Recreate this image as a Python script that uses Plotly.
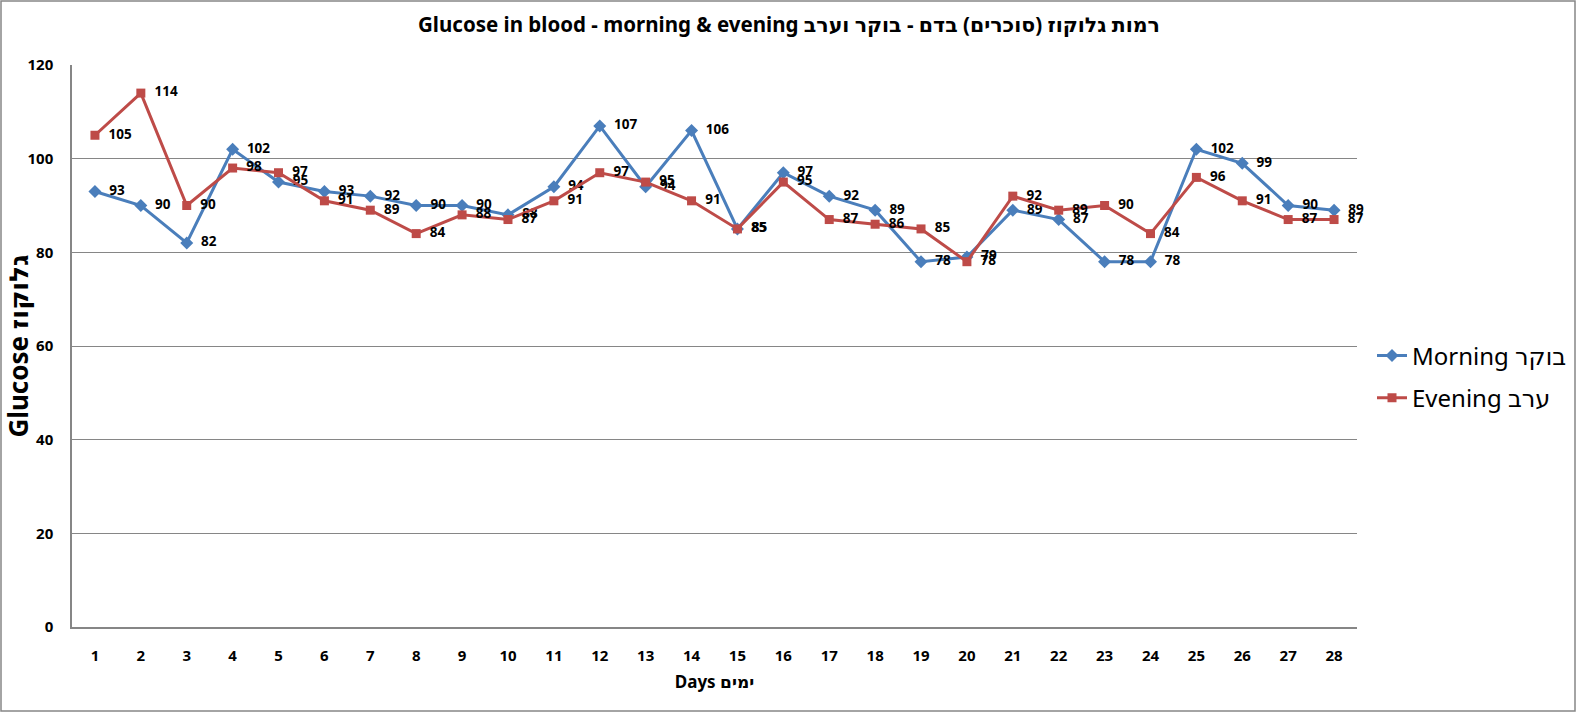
import plotly.graph_objects as go

days = list(range(1, 29))
morning = [93, 90, 82, 102, 95, 93, 92, 90, 90, 88, 94, 107, 94, 106, 85, 97, 92, 89, 78, 79, 89, 87, 78, 78, 102, 99, 90, 89]
evening = [105, 114, 90, 98, 97, 91, 89, 84, 88, 87, 91, 97, 95, 91, 85, 95, 87, 86, 85, 78, 92, 89, 90, 84, 96, 91, 87, 87]
y_ticks = [0, 20, 40, 60, 80, 100, 120]

W, H = 1578, 716
L, T = 72, 65
R = W - 1357
B = H - 627
pw, ph = W - L - R, H - T - B

FONT = "Noto Sans, DejaVu Sans, sans-serif"
NB = "\u00a0"

def lab(vals):
    return [NB + NB + str(v) for v in vals]

fig = go.Figure()
fig.add_trace(go.Scatter(
    x=days, y=morning, name="Morning בוקר", mode="lines+markers+text",
    legendgroup="m",
    line=dict(color="#4A7EBB", width=3),
    marker=dict(symbol="diamond", size=10, color="#4A7EBB"),
    text=lab(morning), textposition="middle right", cliponaxis=False,
    textfont=dict(family=FONT, size=13.5, color="black", weight="bold"),
))
fig.add_trace(go.Scatter(
    x=days, y=evening, name="Evening ערב", mode="lines+markers+text",
    legendgroup="e",
    line=dict(color="#BE4B48", width=3),
    marker=dict(symbol="square", size=9, color="#BE4B48"),
    text=lab(evening), textposition="middle right", cliponaxis=False,
    textfont=dict(family=FONT, size=13.5, color="black", weight="bold"),
))

fig.update_layout(
    width=W, height=H,
    margin=dict(l=L, r=R, t=T, b=B, autoexpand=False),
    paper_bgcolor="white", plot_bgcolor="white",
    font=dict(family=FONT, color="black"),
    title=dict(text="<b>Glucose in blood - morning & evening רמות גלוקוז (סוכרים) בדם - בוקר וערב</b>",
               x=789 / W, xanchor="center", y=1 - 25 / H, yanchor="middle",
               font=dict(size=20.5, family=FONT)),
    xaxis=dict(
        range=[0.5, 28.5], tickmode="array", tickvals=days, ticktext=[str(d) for d in days],
        showgrid=False, showline=True, linecolor="#868686", linewidth=1.5,
        ticks="", ticklabelstandoff=14,
        tickfont=dict(size=15, weight="bold"),
        title=dict(text="<b>Days ימים</b>", font=dict(size=17), standoff=12),
        zeroline=False,
    ),
    yaxis=dict(
        range=[0, 120], tickmode="array", tickvals=y_ticks,
        showgrid=True, gridcolor="#868686", gridwidth=1,
        showline=True, linecolor="#868686", linewidth=1.5,
        ticks="", ticklabelstandoff=14,
        tickfont=dict(size=15, weight="bold"),
        title=dict(text="<b>Glucose גלוקוז</b>", font=dict(size=26), standoff=10),
        zeroline=False,
    ),
    legend=dict(x=(1372 - L) / pw, xanchor="left", y=(H - B - 377) / ph, yanchor="middle",
                font=dict(size=24), bgcolor="rgba(0,0,0,0)",
                itemwidth=30, tracegroupgap=8),
    shapes=[dict(type="rect", xref="paper", yref="paper",
                 x0=(1 - L) / pw, x1=(1575 - L) / pw,
                 y0=(H - B - 711) / ph, y1=(H - B - 1) / ph,
                 line=dict(color="#868686", width=1.5), fillcolor="rgba(0,0,0,0)", layer="below")],
)

fig.write_html("out.html", config={"displayModeBar": False},
               post_script="document.body.style.margin='0';document.body.style.overflow='hidden';")
